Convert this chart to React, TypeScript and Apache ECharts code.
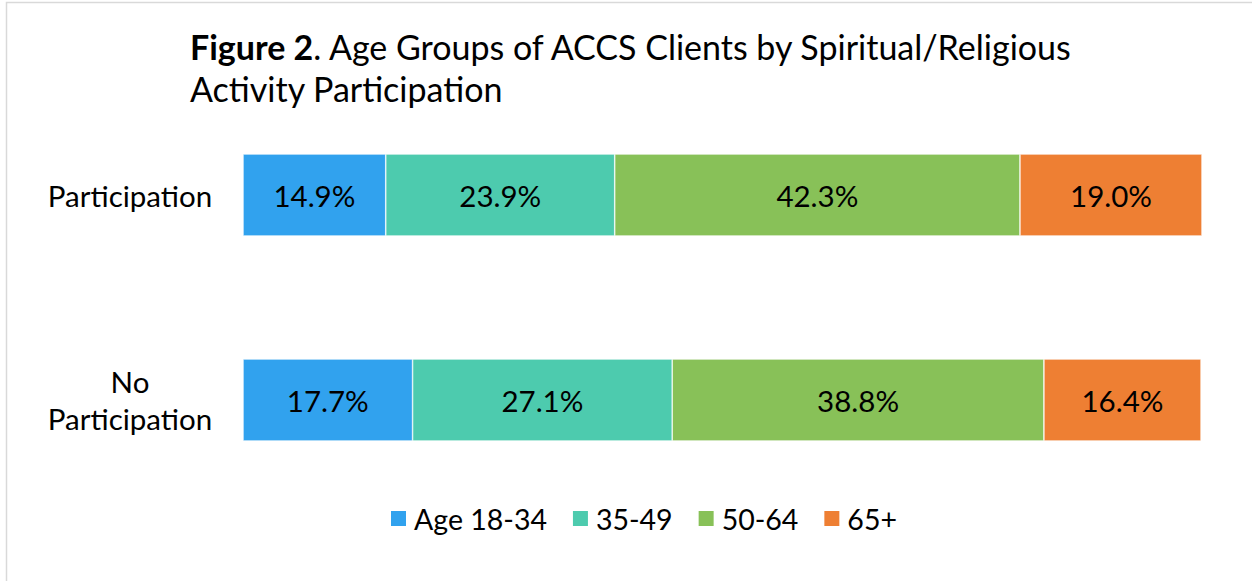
import React, { useEffect, useRef } from "react";
import * as echarts from "echarts";

const categories = ["Participation", "No\nParticipation"];
const seriesNames = ["Age 18-34", "35-49", "50-64", "65+"];
const age18_34 = [14.9, 17.7];
const age35_49 = [23.9, 27.1];
const age50_64 = [42.3, 38.8];
const age65plus = [19.0, 16.4];
const colors = ["#31A2EE", "#4DCBAE", "#88C158", "#EE7F33"];

export default function App() {
  const ref = useRef<HTMLDivElement>(null);
  useEffect(() => {
    if (!ref.current) return;
    const chart = echarts.init(ref.current, undefined, { renderer: "svg" });
    const font = "Lato, 'Open Sans', sans-serif";
    const values = [age18_34, age35_49, age50_64, age65plus];
    chart.setOption({
      animation: false,
      textStyle: { fontFamily: font },
      title: {
        text: "{b|Figure 2}. Age Groups of ACCS Clients by Spiritual/Religious\nActivity Participation",
        left: 185,
        top: 20,
        textStyle: {
          fontFamily: font,
          fontSize: 34,
          fontWeight: "normal",
          color: "#000",
          lineHeight: 42,
          rich: {
            b: { fontFamily: font, fontSize: 34, fontWeight: "bold", color: "#000", lineHeight: 42 },
          },
        },
      },
      graphic: [
        {
          type: "rect",
          shape: { x: 6.5, y: 2.5, width: 1300, height: 700 },
          style: { fill: "none", stroke: "#D9D9D9", lineWidth: 1.5 },
          silent: true,
        },
      ],
      legend: {
        bottom: 43,
        left: 384,
        itemWidth: 17,
        itemHeight: 17,
        itemGap: 24,
        icon: "rect",
        textStyle: { fontFamily: font, fontSize: 28.5, color: "#000", padding: [0, 0, 0, 2] },
        data: seriesNames,
      },
      grid: { left: 243, right: 50, top: 92.5, height: 410, containLabel: false },
      xAxis: {
        type: "value",
        min: 0,
        max: 100.1,
        show: false,
      },
      yAxis: {
        type: "category",
        data: categories,
        inverse: true,
        axisLine: { show: false },
        axisTick: { show: false },
        axisLabel: {
          fontFamily: font,
          fontSize: 29.5,
          color: "#000",
          margin: 113,
          lineHeight: 37,
          align: "center",
        },
      },
      series: seriesNames.map((name, i) => ({
        name,
        type: "bar",
        stack: "total",
        barWidth: 82,
        data: values[i],
        itemStyle: { color: colors[i], borderColor: "#fff", borderWidth: 0.6 },
        label: {
          show: true,
          position: "inside",
          formatter: (p: any) => p.value.toFixed(1) + "%",
          fontFamily: font,
          fontSize: 29.5,
          color: "#000",
        },
      })),
    });
    return () => chart.dispose();
  }, []);
  return (
    <div
      ref={ref}
      style={{ position: "fixed", left: 0, top: 0, width: 1252, height: 581, background: "#fff" }}
    />
  );
}
